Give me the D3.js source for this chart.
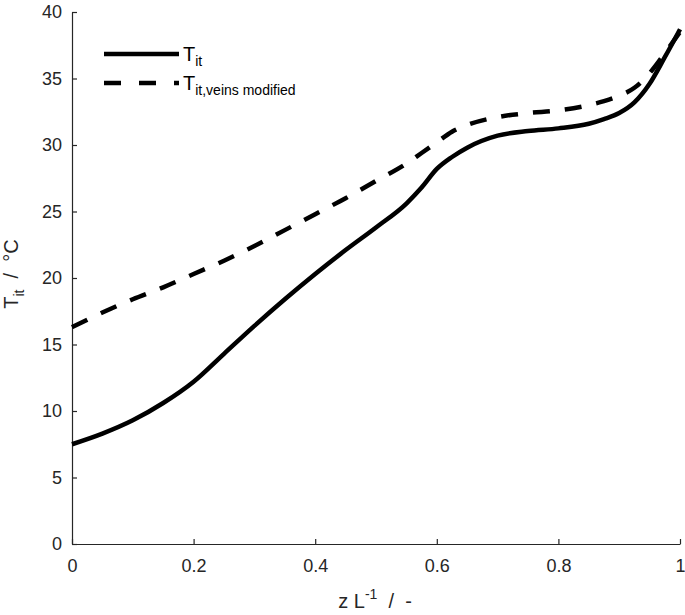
<!DOCTYPE html>
<html>
<head>
<meta charset="utf-8">
<script src="https://cdn.jsdelivr.net/npm/d3@7"></script>
<style>
  html, body { margin: 0; padding: 0; background: #fff; }
  svg { display: block; font-family: "Liberation Sans", Arial, Helvetica, sans-serif; }
</style>
</head>
<body>
<svg id="chart" width="685" height="615"></svg>
<script>
const zValues = [0, 0.05, 0.1, 0.15, 0.2, 0.25, 0.3, 0.35, 0.4, 0.45, 0.5, 0.55, 0.575, 0.6, 0.625, 0.65, 0.7, 0.75, 0.8, 0.85, 0.875, 0.9, 0.925, 0.95, 0.975, 1];
const tIt = [7.5, 8.3, 9.3, 10.6, 12.2, 14.3, 16.4, 18.4, 20.3, 22.1, 23.8, 25.6, 26.8, 28.2, 29.1, 29.8, 30.7, 31.05, 31.25, 31.6, 31.95, 32.4, 33.2, 34.6, 36.6, 38.7];
const tItVeins = [16.3, 17.4, 18.4, 19.3, 20.3, 21.3, 22.4, 23.6, 24.8, 26.0, 27.3, 28.6, 29.4, 30.2, 31.0, 31.5, 32.1, 32.4, 32.6, 33.0, 33.3, 33.7, 34.3, 35.4, 36.9, 38.5];
const xTicks = [0, 0.2, 0.4, 0.6, 0.8, 1];
const xTickLabels = ["0", "0.2", "0.4", "0.6", "0.8", "1"];
const yTicks = [0, 5, 10, 15, 20, 25, 30, 35, 40];
const yTickLabels = ["0", "5", "10", "15", "20", "25", "30", "35", "40"];

const svg = d3.select("#chart");
const axisColor = "#262626";

const x = d3.scaleLinear().domain([0, 1]).range([72, 680]);
const y = d3.scaleLinear().domain([0, 40]).range([544, 12]);

// Axes
const xAxis = d3.axisBottom(x).tickValues(xTicks).tickFormat((d, i) => xTickLabels[i])
  .tickSizeInner(-5).tickSizeOuter(0).tickPadding(15);
const yAxis = d3.axisLeft(y).tickValues(yTicks).tickFormat((d, i) => yTickLabels[i])
  .tickSizeInner(-5).tickSizeOuter(0).tickPadding(10);

const gx = svg.append("g").attr("transform", `translate(0,${y(0)})`).call(xAxis);
const gy = svg.append("g").attr("transform", `translate(${x(0)},0)`).call(yAxis);
[gx, gy].forEach(g => {
  g.select(".domain").attr("stroke", axisColor).attr("stroke-width", 1.2);
  g.selectAll(".tick line").attr("stroke", axisColor).attr("stroke-width", 1.2);
  g.selectAll(".tick text").attr("fill", axisColor).attr("font-size", 18)
    .attr("font-family", '"Liberation Sans", Arial, sans-serif');
});

// Lines
const solidData = zValues.map((z, i) => [z, tIt[i]]);
const dashData = zValues.map((z, i) => [z, tItVeins[i]]);
const line = d3.line().x(d => x(d[0])).y(d => y(d[1])).curve(d3.curveMonotoneX);

svg.append("path").datum(solidData).attr("d", line)
  .attr("fill", "none").attr("stroke", "#000").attr("stroke-width", 4.5);
svg.append("path").datum(dashData).attr("d", line)
  .attr("fill", "none").attr("stroke", "#000").attr("stroke-width", 4.5)
  .attr("stroke-dasharray", "17,15");

// Legend
const leg = svg.append("g");
leg.append("line").attr("x1", 104).attr("x2", 179).attr("y1", 54).attr("y2", 54)
  .attr("stroke", "#000").attr("stroke-width", 4.5);
leg.append("line").attr("x1", 104).attr("x2", 179).attr("y1", 83).attr("y2", 83)
  .attr("stroke", "#000").attr("stroke-width", 4.5).attr("stroke-dasharray", "17,18");
const t1 = leg.append("text").attr("x", 183).attr("y", 61).attr("font-size", 20).attr("fill", "#000");
t1.append("tspan").text("T");
t1.append("tspan").attr("font-size", 14).attr("dy", 5).text("it");
const t2 = leg.append("text").attr("x", 183).attr("y", 90).attr("font-size", 20).attr("fill", "#000");
t2.append("tspan").text("T");
t2.append("tspan").attr("font-size", 14).attr("dy", 5).text("it,veins modified");

// Axis labels
const xl = svg.append("text").attr("x", 375).attr("y", 608).attr("text-anchor", "middle")
  .attr("font-size", 20).attr("fill", axisColor);
xl.append("tspan").text("z L");
xl.append("tspan").attr("font-size", 14).attr("dy", -9).text("-1");
xl.append("tspan").attr("dy", 9).text("\u00a0\u00a0/\u00a0\u00a0-");

const yl = svg.append("text").attr("transform", "translate(18,274) rotate(-90)")
  .attr("text-anchor", "middle").attr("font-size", 20).attr("fill", axisColor);
yl.append("tspan").text("T");
yl.append("tspan").attr("font-size", 14).attr("dy", 6).text("it");
yl.append("tspan").attr("dy", -6).text("\u00a0\u00a0/\u00a0\u00a0\u00b0C");
</script>
</body>
</html>
